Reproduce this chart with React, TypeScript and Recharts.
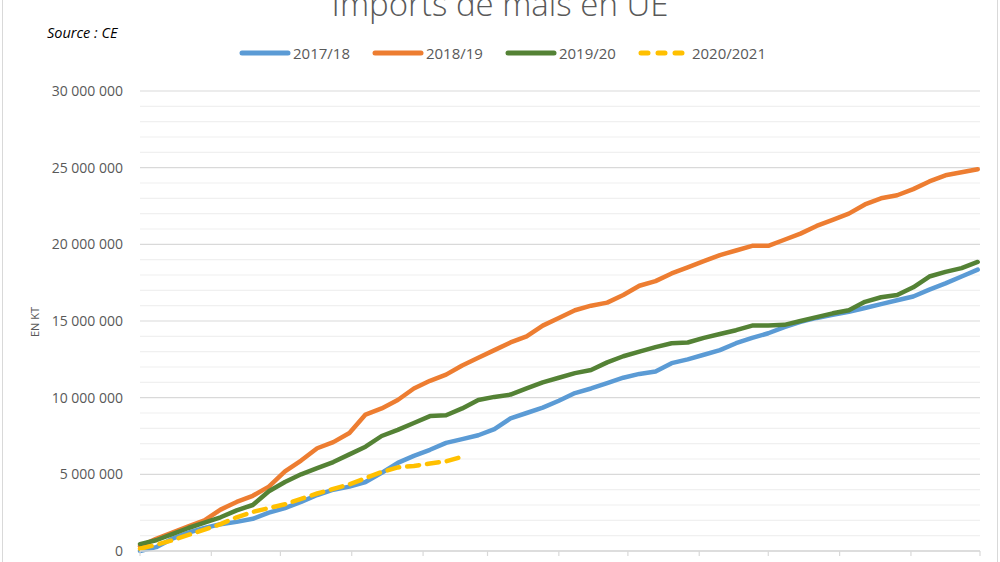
import React from 'react';
import { LineChart, Line, XAxis, YAxis, CartesianGrid } from 'recharts';

// weekly points (week index of marketing year)
const weeks = [
  0, 1, 2, 3, 4, 5, 6, 7, 8, 9, 10, 11, 12, 13, 14, 15, 16, 17, 18, 19, 20,
  21, 22, 23, 24, 25, 26, 27, 28, 29, 30, 31, 32, 33, 34, 35, 36, 37, 38, 39,
  40, 41, 42, 43, 44, 45, 46, 47, 48, 49, 50, 51, 52,
];

// values in millions of tonnes
const s201718 = [
  0, 0.25, 0.8, 1.2, 1.5, 1.75, 1.9, 2.1, 2.5, 2.8, 3.2, 3.65, 4.0, 4.2, 4.5,
  5.1, 5.75, 6.2, 6.6, 7.05, 7.3, 7.55, 7.95, 8.65, 9.0, 9.35, 9.8, 10.3, 10.6,
  10.95, 11.3, 11.55, 11.7, 12.25, 12.5, 12.8, 13.1, 13.55, 13.9, 14.2, 14.6,
  14.95, 15.2, 15.4, 15.6, 15.85, 16.1, 16.35, 16.6, 17.05, 17.45, 17.9, 18.35,
];
const s201819 = [
  0.3, 0.8, 1.2, 1.6, 2.0, 2.7, 3.2, 3.6, 4.2, 5.2, 5.9, 6.7, 7.1, 7.7, 8.9,
  9.3, 9.85, 10.6, 11.1, 11.5, 12.1, 12.6, 13.1, 13.6, 14.0, 14.7, 15.2, 15.7,
  16.0, 16.2, 16.7, 17.3, 17.6, 18.1, 18.5, 18.9, 19.3, 19.6, 19.9, 19.9, 20.3,
  20.7, 21.2, 21.6, 22.0, 22.6, 23.0, 23.2, 23.6, 24.1, 24.5, 24.7, 24.9,
];
const s201920 = [
  0.45, 0.7, 1.1, 1.5, 1.85, 2.2, 2.65, 3.0, 3.9, 4.5, 5.0, 5.4, 5.8, 6.3, 6.8,
  7.5, 7.9, 8.35, 8.8, 8.85, 9.3, 9.85, 10.05, 10.2, 10.6, 11.0, 11.3, 11.6,
  11.8, 12.3, 12.7, 13.0, 13.3, 13.55, 13.6, 13.9, 14.15, 14.4, 14.7, 14.7,
  14.75, 15.0, 15.25, 15.5, 15.7, 16.25, 16.55, 16.7, 17.2, 17.9, 18.2, 18.45,
  18.85,
];
const s202021 = [
  0.15, 0.4, 0.7, 1.05, 1.4, 1.75, 2.2, 2.55, 2.8, 3.05, 3.4, 3.75, 4.05, 4.35,
  4.75, 5.15, 5.45, 5.55, 5.7, 5.85, 6.15,
];

const seriesNames = ['2017/18', '2018/19', '2019/20', '2020/2021'];
const seriesColors = ['#5B9BD5', '#ED7D31', '#548235', '#FFC000'];
const seriesKeys = ['a', 'b', 'c', 'd'];
const seriesValues = [s201718, s201819, s201920, s202021];

// month boundaries (days from start of marketing year)
const monthStartDays = [0, 31, 61, 92, 123, 151, 182, 212, 243, 273, 304, 335, 365];
const yTicks = [0, 5000000, 10000000, 15000000, 20000000, 25000000, 30000000];
const yMinor = [
  1000000, 2000000, 3000000, 4000000, 6000000, 7000000, 8000000, 9000000,
  11000000, 12000000, 13000000, 14000000, 16000000, 17000000, 18000000, 19000000,
  21000000, 22000000, 23000000, 24000000, 26000000, 27000000, 28000000, 29000000,
];

const data = weeks.map((w, i) => {
  const row: Record<string, number | null> = { day: w * 7 };
  seriesKeys.forEach((k, si) => {
    const v = seriesValues[si][i];
    row[k] = v === undefined ? null : v * 1000000;
  });
  return row;
});

const fmt = (v: number) => String(v).replace(/\B(?=(\d{3})+(?!\d))/g, ' ');

const FONT = '"Open Sans", "Noto Sans", sans-serif';

export default function App() {
  return (
    <div
      style={{
        position: 'absolute',
        left: 0,
        top: 0,
        width: 1000,
        height: 562,
        overflow: 'hidden',
        background: '#fff',
        fontFamily: FONT,
      }}
    >
      <div
        style={{
          position: 'absolute',
          left: 2,
          top: 0,
          width: 994,
          height: 562,
          borderLeft: '1.5px solid #d9d9d9',
          borderRight: '1.5px solid #d9d9d9',
        }}
      />
      <LineChart
        width={1000}
        height={562}
        data={data}
        margin={{ top: 91, right: 20, bottom: 0, left: 0 }}
      >
        <CartesianGrid
          vertical={false}
          horizontalValues={yMinor}
          stroke="#f0f0f0"
          strokeWidth={1.2}
        />
        <CartesianGrid
          vertical={false}
          horizontalValues={yTicks}
          stroke="#d9d9d9"
          strokeWidth={1.2}
        />
        <XAxis
          dataKey="day"
          type="number"
          domain={[0, 365]}
          ticks={monthStartDays}
          interval={0}
          tickFormatter={() => ''}
          height={11}
          tickSize={5}
          axisLine={{ stroke: '#d9d9d9', strokeWidth: 1.5 }}
          tickLine={{ stroke: '#d9d9d9', strokeWidth: 1.2 }}
        />
        <YAxis
          type="number"
          domain={[0, 30000000]}
          ticks={yTicks}
          interval={0}
          width={140}
          axisLine={false}
          tickLine={false}
          tickSize={0}
          tickMargin={17}
          tickFormatter={fmt}
          tick={{ fill: '#595959', fontSize: 14, fontFamily: FONT }}
        />
        {seriesKeys.map((k, si) => (
          <Line
            key={k}
            type="linear"
            dataKey={k}
            name={seriesNames[si]}
            stroke={seriesColors[si]}
            strokeWidth={4.5}
            strokeLinecap="round"
            strokeLinejoin="round"
            strokeDasharray={si === 3 ? '12 8' : undefined}
            dot={false}
            activeDot={false}
            connectNulls={false}
            isAnimationActive={false}
          />
        ))}
      </LineChart>

      <svg
        width={1000}
        height={562}
        style={{ position: 'absolute', left: 0, top: 0, pointerEvents: 'none' }}
      >
        <text
          x={500}
          y={16}
          textAnchor="middle"
          fill="#595959"
          fontSize={33}
          fontWeight={300}
          fontFamily={FONT}
        >
          Imports de maïs en UE
        </text>
        <text
          x={47}
          y={38}
          fill="#000"
          fontSize={14.5}
          fontStyle="italic"
          fontWeight={500}
          fontFamily={FONT}
        >
          Source : CE
        </text>
        <text
          transform="translate(39,322) rotate(-90)"
          textAnchor="middle"
          fill="#595959"
          fontSize={11}
          fontFamily={FONT}
        >
          EN KT
        </text>
      </svg>

      <div
        style={{
          position: 'absolute',
          left: 238,
          top: 43,
          display: 'flex',
          alignItems: 'center',
          gap: 21,
          fontSize: 15,
          color: '#595959',
          fontFamily: FONT,
          lineHeight: '20px',
        }}
      >
        {seriesNames.map((n, si) => (
          <div key={n} style={{ display: 'flex', alignItems: 'center' }}>
            <svg width={54} height={20}>
              <line
                x1={4}
                y1={10}
                x2={50}
                y2={10}
                stroke={seriesColors[si]}
                strokeWidth={5}
                strokeLinecap="round"
                strokeDasharray={si === 3 ? '7 10' : undefined}
              />
            </svg>
            <span style={{ marginLeft: 1 }}>{n}</span>
          </div>
        ))}
      </div>
    </div>
  );
}
